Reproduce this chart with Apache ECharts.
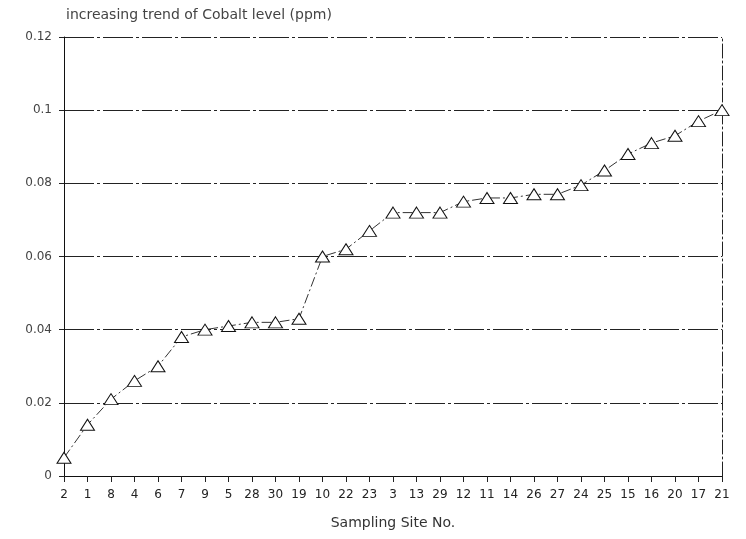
<!DOCTYPE html>
<html>
<head>
<meta charset="utf-8">
<script src="https://cdn.jsdelivr.net/npm/echarts@6/dist/echarts.min.js"></script>
<style>
  html, body { margin: 0; padding: 0; background: #fff; }
  #chart { width: 746px; height: 539px; }
</style>
</head>
<body>
<div id="chart"></div>
<script>
  // sampling sites, sorted by cobalt level
  var sites = ['2', '1', '8', '4', '6', '7', '9', '5', '28', '30', '19', '10', '22', '23', '3',
    '13', '29', '12', '11', '14', '26', '27', '24', '25', '15', '16', '20', '17', '21']
  var cobalt = [0.005, 0.014, 0.021, 0.026, 0.030, 0.038, 0.040, 0.041, 0.042, 0.042, 0.043,
    0.060, 0.062, 0.067, 0.072, 0.072, 0.072, 0.075, 0.076, 0.076, 0.077, 0.077, 0.0795,
    0.0835, 0.088, 0.091, 0.093, 0.097, 0.100]
  var yTicks = [0, 0.02, 0.04, 0.06, 0.08, 0.1, 0.12]

  var chart = echarts.init(document.getElementById('chart'))
  var font = 'DejaVu Sans'

  chart.setOption({
    animation: false,
    title: {
      text: 'increasing trend of Cobalt level (ppm)',
      left: 61,
      top: 3,
      textStyle: { fontFamily: font, fontSize: 14, fontWeight: 'normal', color: '#444' }
    },
    grid: { left: 64, right: 24, top: 37, bottom: 63 },
    xAxis: {
      type: 'category',
      data: sites,
      boundaryGap: false,
      name: 'Sampling Site No.',
      nameLocation: 'middle',
      nameGap: 40,
      nameTextStyle: { fontFamily: font, fontSize: 14, color: '#333' },
      axisLine: { lineStyle: { color: '#111', width: 1 } },
      axisTick: { show: true, alignWithLabel: true, length: 6, lineStyle: { color: '#222' } },
      axisLabel: { fontFamily: font, fontSize: 12, color: '#222', margin: 13, interval: 0 },
      splitLine: { show: false }
    },
    yAxis: [{
      type: 'value',
      min: 0,
      max: 0.12,
      interval: 0.02,
      axisLine: { show: true, lineStyle: { color: '#111', width: 1 } },
      axisTick: { show: true, length: 5, lineStyle: { color: '#222' } },
      axisLabel: {
        fontFamily: font, fontSize: 12, color: '#444', margin: 12,
        formatter: function (v) {
          var t = yTicks.find(function (y) { return Math.abs(y - v) < 1e-9 })
          return t === undefined ? '' : String(t)
        }
      },
      splitLine: { show: true, lineStyle: { color: '#222', width: 1, type: [30, 3, 3, 3] } }
    }, {
      type: 'value',
      min: 0,
      max: 0.12,
      interval: 0.02,
      position: 'right',
      axisLine: { show: true, lineStyle: { color: '#222', width: 1, type: [14, 3, 2, 3] } },
      axisTick: { show: false },
      axisLabel: { show: false },
      splitLine: { show: false }
    }],
    series: [{
      type: 'line',
      data: cobalt,
      symbol: 'triangle',
      symbolSize: [14, 11],
      itemStyle: { color: '#fff', borderColor: '#111', borderWidth: 1 },
      lineStyle: { color: '#333', width: 1, type: [10, 3, 2, 3] }
    }]
  })
</script>
</body>
</html>
